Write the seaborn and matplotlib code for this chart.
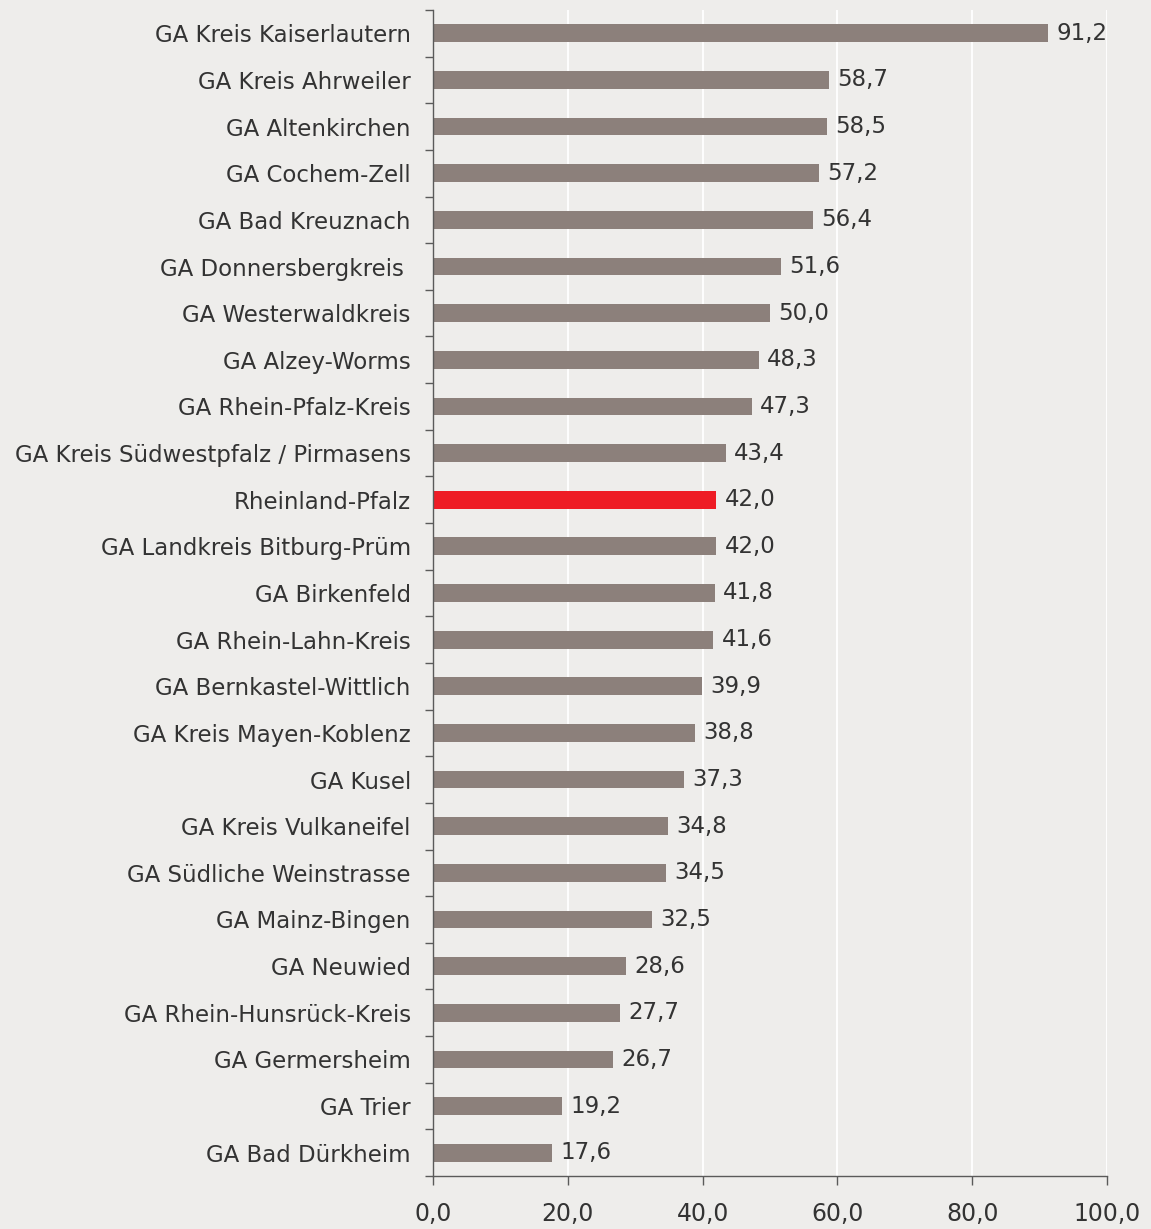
import matplotlib
matplotlib.use("Agg")
import matplotlib.pyplot as plt
import seaborn as sns
import pandas as pd
from matplotlib.ticker import FixedLocator

categories = [
    "GA Kreis Kaiserlautern", "GA Kreis Ahrweiler", "GA Altenkirchen", "GA Cochem-Zell",
    "GA Bad Kreuznach", "GA Donnersbergkreis ", "GA Westerwaldkreis", "GA Alzey-Worms",
    "GA Rhein-Pfalz-Kreis", "GA Kreis Südwestpfalz / Pirmasens", "Rheinland-Pfalz",
    "GA Landkreis Bitburg-Prüm", "GA Birkenfeld", "GA Rhein-Lahn-Kreis",
    "GA Bernkastel-Wittlich", "GA Kreis Mayen-Koblenz", "GA Kusel", "GA Kreis Vulkaneifel",
    "GA Südliche Weinstrasse", "GA Mainz-Bingen", "GA Neuwied", "GA Rhein-Hunsrück-Kreis",
    "GA Germersheim", "GA Trier", "GA Bad Dürkheim",
]
values = [91.2, 58.7, 58.5, 57.2, 56.4, 51.6, 50.0, 48.3, 47.3, 43.4, 42.0, 42.0, 41.8,
          41.6, 39.9, 38.8, 37.3, 34.8, 34.5, 32.5, 28.6, 27.7, 26.7, 19.2, 17.6]
highlight = "Rheinland-Pfalz"
xticks = [0, 20, 40, 60, 80, 100]

bg = "#EEEDEB"
bar_color = "#8C807B"
red = "#EE1C25"
text_color = "#333333"
spine_color = "#5A5A5A"

sns.set_theme(style="white")
plt.rcParams["font.family"] = ["DejaVu Sans"]

df = pd.DataFrame({"cat": categories, "val": values})
palette = {c: (red if c == highlight else bar_color) for c in categories}

fig = plt.figure(figsize=(11.51, 12.29), dpi=100, facecolor=bg)
ax = fig.add_axes([433 / 1151, 1 - 1176 / 1229, (1107 - 433) / 1151, (1176 - 10) / 1229])
ax.set_facecolor(bg)

sns.barplot(data=df, x="val", y="cat", hue="cat", palette=palette, legend=False,
            width=0.38, orient="h", ax=ax, saturation=1, linewidth=0)

ax.set_xlim(0, 100)
ax.set_ylim(len(categories) - 0.5, -0.5)
ax.set_xticks(xticks)
ax.set_xticklabels([f"{t:.1f}".replace(".", ",") for t in xticks])
ax.xaxis.grid(True, color="white", linewidth=1.3)
ax.set_axisbelow(True)
ax.set_xlabel("")
ax.set_ylabel("")

for c in ax.containers:
    ax.bar_label(c, labels=[f"{v:.1f}".replace(".", ",") for v in c.datavalues],
                 padding=6, fontsize=16.5, color=text_color)

ax.yaxis.set_minor_locator(FixedLocator([i - 0.5 for i in range(len(categories) + 1)]))
ax.tick_params(axis="y", which="major", length=0, pad=16, labelsize=16.5, labelcolor=text_color)
ax.tick_params(axis="y", which="minor", length=6, width=1, color=spine_color, direction="out", left=True)
ax.tick_params(axis="x", which="major", length=6.5, width=1, color=spine_color, direction="out",
               pad=12.5, labelsize=17, labelcolor=text_color, bottom=True)

for s in ["top", "right"]:
    ax.spines[s].set_visible(False)
for s in ["left", "bottom"]:
    ax.spines[s].set_color(spine_color)
    ax.spines[s].set_linewidth(1)

fig.savefig("out.png", dpi=100, facecolor=bg)
